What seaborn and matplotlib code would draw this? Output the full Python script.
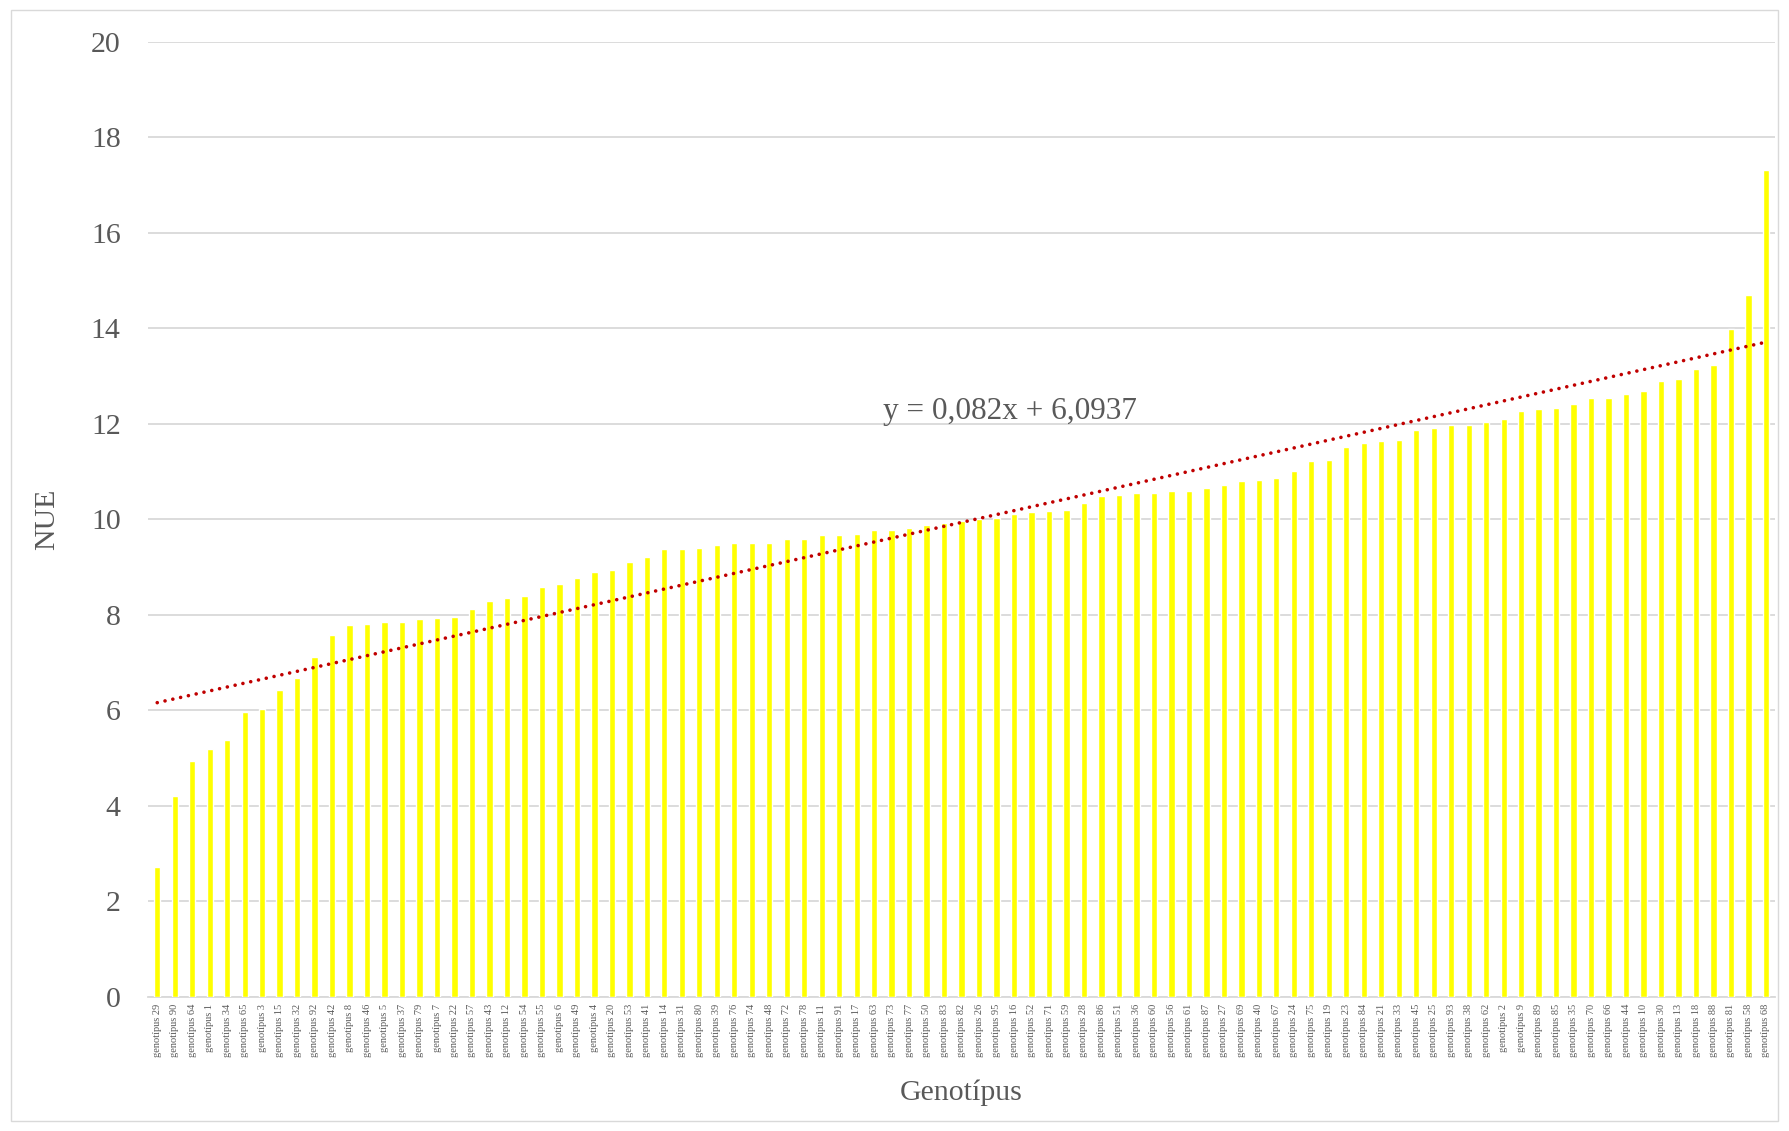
import numpy as np
import pandas as pd
import seaborn as sns
import matplotlib.pyplot as plt
from matplotlib.patches import Rectangle

# genotype ids in plotted (sorted) order
genotypes = [29, 90, 64, 1, 34, 65, 3, 15, 32, 92, 42, 8, 46, 5, 37, 79, 7, 22, 57, 43,
             12, 54, 55, 6, 49, 4, 20, 53, 41, 14, 31, 80, 39, 76, 74, 48, 72, 78, 11, 91,
             17, 63, 73, 77, 50, 83, 82, 26, 95, 16, 52, 71, 59, 28, 86, 51, 36, 60, 56, 61,
             87, 27, 69, 40, 67, 24, 75, 19, 23, 84, 21, 33, 45, 25, 93, 38, 62, 2, 9, 89,
             85, 35, 70, 66, 44, 10, 30, 13, 18, 88, 81, 58, 68]

nue = [2.72, 4.20, 4.95, 5.19, 5.38, 5.97, 6.02, 6.43, 6.67, 7.12,
       7.57, 7.79, 7.81, 7.86, 7.86, 7.91, 7.93, 7.96, 8.12, 8.29,
       8.36, 8.39, 8.58, 8.65, 8.77, 8.89, 8.94, 9.10, 9.22, 9.37,
       9.39, 9.41, 9.46, 9.51, 9.51, 9.51, 9.60, 9.60, 9.68, 9.68,
       9.70, 9.77, 9.77, 9.82, 9.89, 9.92, 9.96, 10.01, 10.04, 10.11,
       10.16, 10.18, 10.20, 10.35, 10.49, 10.51, 10.56, 10.56, 10.59, 10.59,
       10.66, 10.73, 10.80, 10.82, 10.87, 11.02, 11.23, 11.25, 11.52, 11.59,
       11.64, 11.66, 11.88, 11.92, 11.97, 11.97, 12.04, 12.11, 12.28, 12.31,
       12.33, 12.42, 12.55, 12.55, 12.62, 12.69, 12.90, 12.93, 13.14, 13.24,
       13.98, 14.70, 17.32]

labels = ['genotípus ' + str(g) for g in genotypes]
yticks = [0, 2, 4, 6, 8, 10, 12, 14, 16, 18, 20]
equation = 'y = 0,082x + 6,0937'

df = pd.DataFrame({'Genotípus': labels, 'NUE': nue})

sns.set_style('white')
plt.rcParams['font.family'] = ['Liberation Serif', 'DejaVu Serif']
grey = '#595959'

fig = plt.figure(figsize=(17.89, 11.31), dpi=100)
ax = fig.add_axes([0.083, 0.1185, 0.909, 0.8445])

sns.barplot(data=df, x='Genotípus', y='NUE', color='#FFFF00', saturation=1,
            width=0.36, ax=ax, zorder=3)

# linear trendline (Excel style, x = 1..n)
xs = np.arange(1, len(nue) + 1)
slope, intercept = np.polyfit(xs, nue, 1)
ax.plot(xs - 1, slope * xs + intercept, color='#C00000', linewidth=2.6,
        linestyle=(0, (0.01, 2.2)), dash_capstyle='round', zorder=4)
ax.text(41.5, 12.25, equation, fontsize=22.5, color=grey, ha='left', va='center', zorder=5)

ax.set_ylim(0, 20)
ax.set_xlim(-0.5, len(nue) - 0.5)
ax.set_yticks(yticks)
ax.yaxis.grid(True, color='#D9D9D9', linewidth=1.3, zorder=0)
ax.set_axisbelow(True)
for s in ['top', 'right', 'left']:
    ax.spines[s].set_visible(False)
ax.spines['bottom'].set_color('#D9D9D9')
ax.spines['bottom'].set_linewidth(1.3)

ax.tick_params(axis='y', length=0, pad=20, labelsize=21.5, labelcolor=grey)
ax.tick_params(axis='x', length=0, pad=5, labelsize=7.5, labelcolor=grey, rotation=90)

ax.set_xlabel('Genotípus', fontsize=21.5, color=grey, labelpad=16)
ax.set_ylabel('NUE', fontsize=21.5, color=grey, labelpad=22)

fig.patches.append(Rectangle((0.006, 0.009), 0.988, 0.982, transform=fig.transFigure,
                             fill=False, edgecolor='#D9D9D9', linewidth=1))

fig.savefig('out.png', dpi=100)
